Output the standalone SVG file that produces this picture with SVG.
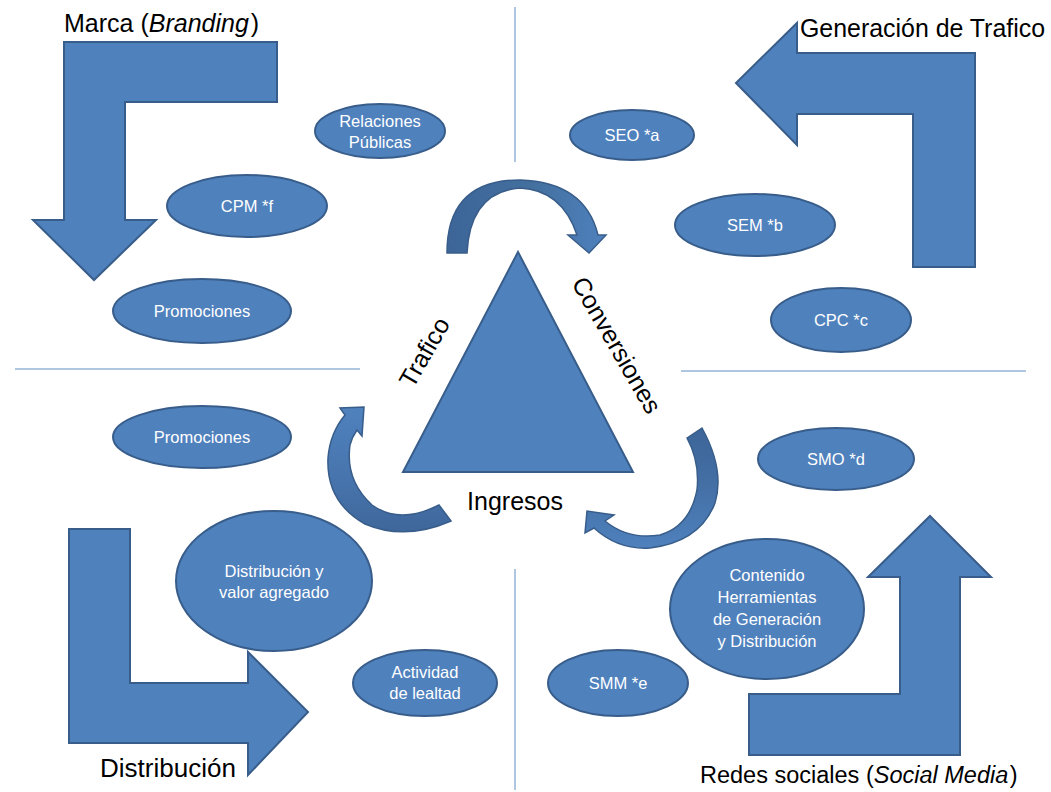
<svg xmlns="http://www.w3.org/2000/svg" width="1051" height="792" viewBox="0 0 1051 792">
  <defs>
    <style>
      .shape { fill: #4f81bd; stroke: #385d8a; stroke-width: 2; stroke-linejoin: miter; }
      .node ellipse { fill: #4f81bd; stroke: #385d8a; stroke-width: 2; }
      .node text { font-family: "Liberation Sans", Arial, sans-serif; font-size: 16.5px; fill: #ffffff; text-anchor: middle; }
      .label { font-family: "Liberation Sans", Arial, sans-serif; font-size: 25px; fill: #000000; }
      .divider { stroke: #95b3d7; stroke-width: 1.5; fill: none; }
    </style>
    <linearGradient id="gTop" x1="447" y1="0" x2="606" y2="0" gradientUnits="userSpaceOnUse">
      <stop offset="0" stop-color="#3d6598"/>
      <stop offset="0.55" stop-color="#43709f"/>
      <stop offset="1" stop-color="#4f81bd"/>
    </linearGradient>
    <linearGradient id="gLeft" x1="0" y1="410" x2="0" y2="540" gradientUnits="userSpaceOnUse">
      <stop offset="0" stop-color="#4f81bd"/>
      <stop offset="0.6" stop-color="#4672aa"/>
      <stop offset="1" stop-color="#3d6598"/>
    </linearGradient>
    <linearGradient id="gRight" x1="0" y1="428" x2="0" y2="548" gradientUnits="userSpaceOnUse">
      <stop offset="0" stop-color="#3d6598"/>
      <stop offset="0.5" stop-color="#4470a6"/>
      <stop offset="1" stop-color="#4f81bd"/>
    </linearGradient>
  </defs>

  <rect width="1051" height="792" fill="#ffffff"/>

  <!-- quadrant dividers -->
  <g id="dividers">
    <line class="divider" x1="515" y1="7" x2="515" y2="162"/>
    <line class="divider" x1="515" y1="569" x2="515" y2="790"/>
    <line class="divider" x1="15" y1="369" x2="360" y2="369"/>
    <line class="divider" x1="681" y1="371" x2="1026" y2="371"/>
  </g>

  <!-- bent block arrows, one per quadrant -->
  <g id="arrow-marca">
    <polygon class="shape" points="64,42 277,42 277,102 125,102 125,220 156,220 94,280 33,220 64,220"/>
    <text class="label" x="64" y="32">Marca (<tspan font-style="italic">Branding</tspan><tspan dx="2">)</tspan></text>
  </g>
  <g id="arrow-trafico">
    <polygon class="shape" points="736,83 797,23 797,53 975,53 975,267 913,267 913,114 797,114 797,145"/>
    <text class="label" x="800" y="37" textLength="245" lengthAdjust="spacingAndGlyphs">Generación de Trafico</text>
  </g>
  <g id="arrow-distribucion">
    <polygon class="shape" points="69,529 130,529 130,683 248,683 248,652 308,712 248,775 248,743 69,743"/>
    <text class="label" x="100" y="777" textLength="136" lengthAdjust="spacingAndGlyphs">Distribución</text>
  </g>
  <g id="arrow-social">
    <polygon class="shape" points="930,516 991,577 960,577 960,755 749,755 749,694 900,694 900,577 868,577"/>
    <text class="label" x="700" y="783" style="font-size:23.5px">Redes sociales (<tspan font-style="italic">Social Media</tspan><tspan dx="1.5">)</tspan></text>
  </g>

  <!-- central triangle with its three side labels -->
  <g id="triangle">
    <polygon class="shape" points="518,252 633,472 403,472"/>
    <text class="label" text-anchor="middle" transform="translate(424,352) rotate(-60)" x="0" y="9">Trafico</text>
    <text class="label" text-anchor="middle" transform="translate(617,345) rotate(60)" x="0" y="9">Conversiones</text>
    <text class="label" text-anchor="middle" x="515" y="510">Ingresos</text>
  </g>

  <!-- curved cycle arrows around the triangle -->
  <g id="connectors">
    <path stroke="#385d8a" stroke-width="1.5" fill="url(#gTop)"
          d="M447,253 Q447,180 520,180 Q585,182 598,235 L606,235 L589,253 L568,235 L577,235 Q562,190 520,188 Q470,192 467,253 Z"/>
    <path stroke="#385d8a" stroke-width="1.5" fill="url(#gLeft)"
          d="M439,505 Q400,525 372,505 Q345,480 350,445 Q352,437 357,430 L362,436 L364,407 L340,408 L345,415 Q330,433 328,458 Q326,502 365,524 Q405,541 451,521 Z"/>
    <path stroke="#385d8a" stroke-width="1.5" fill="url(#gRight)"
          d="M687,438 L702,428 Q725,470 715,503 Q700,542 650,548 Q618,550 594,528 L585,533 L587,511 L614,515 L605,521 Q628,540 660,535 Q690,526 697,490 Q700,462 687,438 Z"/>
  </g>

  <!-- oval nodes -->
  <g id="node-relaciones" class="node">
    <ellipse cx="380" cy="131" rx="65" ry="27"/>
    <text x="380" y="127">Relaciones</text>
    <text x="380" y="148">Públicas</text>
  </g>
  <g id="node-cpm" class="node">
    <ellipse cx="247" cy="206" rx="80" ry="31"/>
    <text x="247" y="212">CPM *f</text>
  </g>
  <g id="node-promociones-1" class="node">
    <ellipse cx="202" cy="311" rx="89" ry="32"/>
    <text x="202" y="317">Promociones</text>
  </g>
  <g id="node-seo" class="node">
    <ellipse cx="632" cy="135" rx="62" ry="25"/>
    <text x="632" y="141">SEO *a</text>
  </g>
  <g id="node-sem" class="node">
    <ellipse cx="755" cy="225" rx="80" ry="31"/>
    <text x="755" y="231">SEM *b</text>
  </g>
  <g id="node-cpc" class="node">
    <ellipse cx="841" cy="320" rx="70" ry="32"/>
    <text x="841" y="326">CPC *c</text>
  </g>
  <g id="node-promociones-2" class="node">
    <ellipse cx="202" cy="437" rx="89" ry="31"/>
    <text x="202" y="443">Promociones</text>
  </g>
  <g id="node-distribucion" class="node">
    <ellipse cx="274" cy="581" rx="98" ry="70"/>
    <text x="274" y="577">Distribución y</text>
    <text x="274" y="598">valor agregado</text>
  </g>
  <g id="node-actividad" class="node">
    <ellipse cx="425" cy="683" rx="72" ry="33"/>
    <text x="425" y="678">Actividad</text>
    <text x="425" y="699">de lealtad</text>
  </g>
  <g id="node-smo" class="node">
    <ellipse cx="836" cy="459" rx="78" ry="31"/>
    <text x="836" y="465">SMO *d</text>
  </g>
  <g id="node-contenido" class="node">
    <ellipse cx="767" cy="609" rx="97" ry="70"/>
    <text x="767" y="581">Contenido</text>
    <text x="767" y="603">Herramientas</text>
    <text x="767" y="625">de Generación</text>
    <text x="767" y="647">y Distribución</text>
  </g>
  <g id="node-smm" class="node">
    <ellipse cx="618" cy="683" rx="70" ry="33"/>
    <text x="618" y="689">SMM *e</text>
  </g>
</svg>
